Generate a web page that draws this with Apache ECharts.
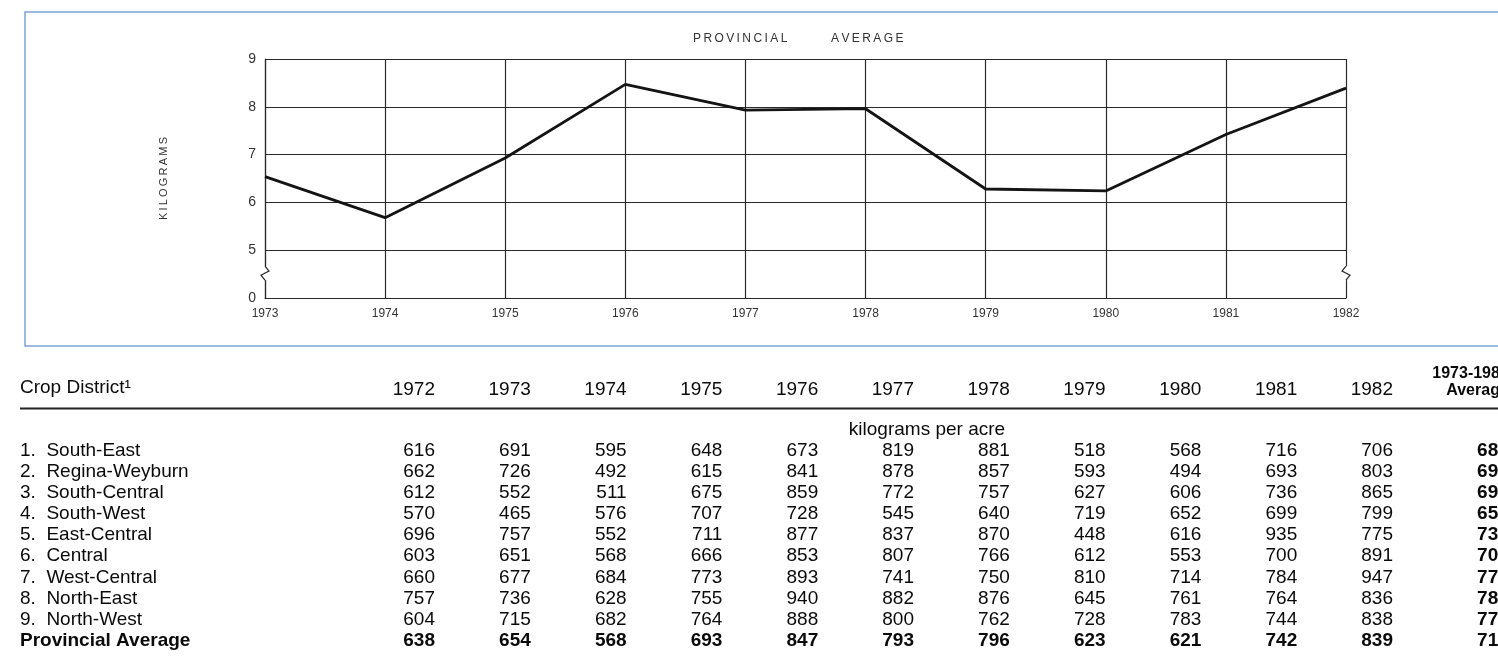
<!DOCTYPE html>
<html>
<head>
<meta charset="utf-8">
<script src="https://cdn.jsdelivr.net/npm/echarts@6/dist/echarts.min.js"></script>
<style>
html,body{margin:0;padding:0;background:#fff;}
#c{width:1498px;height:656px;}
</style>
</head>
<body>
<div id="c"></div>
<script>
// ---- line chart data ----
const years = ['1973','1974','1975','1976','1977','1978','1979','1980','1981','1982'];
const provincialKg = [6.54, 5.68, 6.93, 8.47, 7.93, 7.96, 6.28, 6.24, 7.42, 8.39];

// ---- table data ----
const tableColumns = ['1972','1973','1974','1975','1976','1977','1978','1979','1980','1981','1982','1973-1982\nAverage'];
const districts = ['1.  South-East','2.  Regina-Weyburn','3.  South-Central','4.  South-West','5.  East-Central','6.  Central','7.  West-Central','8.  North-East','9.  North-West','Provincial Average'];
const southEast     = [616,691,595,648,673,819,881,518,568,716,706,682];
const reginaWeyburn = [662,726,492,615,841,878,857,593,494,693,803,699];
const southCentral  = [612,552,511,675,859,772,757,627,606,736,865,696];
const southWest     = [570,465,576,707,728,545,640,719,652,699,799,653];
const eastCentral   = [696,757,552,711,877,837,870,448,616,935,775,738];
const central       = [603,651,568,666,853,807,766,612,553,700,891,707];
const westCentral   = [660,677,684,773,893,741,750,810,714,784,947,777];
const northEast     = [757,736,628,755,940,882,876,645,761,764,836,782];
const northWest     = [604,715,682,764,888,800,762,728,783,744,838,770];
const provincialAvg = [638,654,568,693,847,793,796,623,621,742,839,718];
const tableRows = [southEast, reginaWeyburn, southCentral, southWest, eastCentral, central, westCentral, northEast, northWest, provincialAvg];

const TS = '\u2009';
const spaced = s => s.split('').join(TS);
const FONT = '"Liberation Sans", Arial, sans-serif';
const INK = '#0a0a0a';
const lastCol = tableColumns.length - 1;
const lastRow = districts.length - 1;

const cellData = [];
tableRows.forEach((row, r) => {
  row.forEach((v, c) => {
    const bold = (r === lastRow || c === lastCol);
    cellData.push({
      value: [c, r, v],
      label: {
        fontWeight: bold ? 'bold' : 'normal',
        offset: c === lastCol ? [20, 0] : [0, 0]
      }
    });
  });
});

const chart = echarts.init(document.getElementById('c'));
chart.setOption({
  animation: false,
  backgroundColor: '#ffffff',
  grid: [
    {left: 265, right: 152, top: 59, bottom: 358, outerBoundsMode: 'none', containLabel: false},
    {left: 435, right: 9.2, top: 450.3, bottom: 15, outerBoundsMode: 'none', containLabel: false}
  ],
  xAxis: [
    {
      gridIndex: 0, type: 'category', data: years, boundaryGap: false,
      axisLine: {lineStyle: {color: '#2a2a2a', width: 1.2}},
      axisTick: {show: false},
      splitLine: {show: true, lineStyle: {color: '#2a2a2a', width: 1.2}},
      axisLabel: {color: '#333', fontSize: 12, margin: 10, fontFamily: FONT, interval: 0}
    },
    {
      gridIndex: 1, type: 'category', position: 'top', boundaryGap: false,
      data: tableColumns.map((t, i) => i === lastCol
        ? {value: t, textStyle: {fontWeight: 'bold', fontSize: 16, lineHeight: 17, align: 'right', padding: [0, -20, 0, 0]}}
        : t),
      axisLine: {show: false}, axisTick: {show: false}, splitLine: {show: false},
      axisLabel: {color: INK, fontSize: 19, fontFamily: FONT, align: 'right', margin: 51, interval: 0,
        alignMinLabel: 'right', alignMaxLabel: 'right', hideOverlap: false}
    }
  ],
  yAxis: [
    {
      gridIndex: 0, type: 'value', min: 4, max: 9, interval: 1,
      name: spaced('KILOGRAMS'), nameLocation: 'middle', nameRotate: 90, nameGap: 96,
      nameTextStyle: {color: '#333', fontSize: 11, fontFamily: FONT},
      axisLine: {show: true, lineStyle: {color: '#2a2a2a', width: 1.2}},
      axisTick: {show: false},
      splitLine: {show: true, lineStyle: {color: '#2a2a2a', width: 1.2}},
      axisLabel: {color: '#333', fontSize: 14, margin: 9, fontFamily: FONT,
        formatter: v => (v === 4 ? '0' : String(v))}
    },
    {
      gridIndex: 1, type: 'category', inverse: true, boundaryGap: false,
      data: districts.map((d, i) => i === lastRow ? {value: d, textStyle: {fontWeight: 'bold', align: 'left'}} : d),
      axisLine: {show: false}, axisTick: {show: false}, splitLine: {show: false},
      axisLabel: {color: INK, fontSize: 19, fontFamily: FONT, align: 'left', margin: 415, interval: 0}
    }
  ],
  series: [
    {
      type: 'line', xAxisIndex: 0, yAxisIndex: 0, data: provincialKg,
      symbol: 'none', lineStyle: {color: '#141414', width: 2.8}, z: 5
    },
    {
      type: 'scatter', xAxisIndex: 1, yAxisIndex: 1, data: cellData,
      symbolSize: 0, silent: true,
      itemStyle: {opacity: 1, color: INK},
      label: {show: true, position: 'inside', align: 'right', verticalAlign: 'middle',
        color: INK, fontSize: 19, fontFamily: FONT, opacity: 1,
        textBorderWidth: 0, textBorderColor: 'transparent',
        formatter: p => String(p.value[2])}
    }
  ]
});

// decorations: frame, title, rule, unit note, axis breaks
const g = [];
g.push({type: 'rect', shape: {x: 25, y: 12, width: 1500, height: 334},
  style: {fill: 'none', stroke: '#7ea3d4', lineWidth: 1.5}, z: 0, silent: true});
g.push({type: 'text', left: 693, top: 33, style: {text: spaced('PROVINCIAL'), font: '12px ' + FONT, fill: '#333'}, silent: true});
g.push({type: 'text', left: 831, top: 33, style: {text: spaced('AVERAGE'), font: '12px ' + FONT, fill: '#333'}, silent: true});
g.push({type: 'text', left: 20, top: 378, style: {text: 'Crop District\u00b9', font: '19px ' + FONT, fill: INK}, silent: true});
g.push({type: 'line', shape: {x1: 20, y1: 408.5, x2: 1498, y2: 408.5}, style: {stroke: '#222', lineWidth: 2}, silent: true});
g.push({type: 'text', x: 927, y: 430, style: {text: 'kilograms per acre', font: '19px ' + FONT, fill: INK, align: 'center', verticalAlign: 'middle'}, silent: true});

const pL = chart.convertToPixel({xAxisIndex: 0, yAxisIndex: 0}, [years[0], 4.5]);
const pR = chart.convertToPixel({xAxisIndex: 0, yAxisIndex: 0}, [years[years.length - 1], 4.5]);
[[pL, 1], [pR, -1]].forEach(([p, s]) => {
  g.push({type: 'rect', shape: {x: p[0] - 3, y: p[1] - 8, width: 6, height: 14}, style: {fill: '#fff'}, z: 10, silent: true});
  g.push({type: 'polyline', shape: {points: [[p[0], p[1] - 8], [p[0] + 4 * s, p[1] - 3], [p[0] - 4 * s, p[1] + 1], [p[0], p[1] + 6]]},
    style: {stroke: '#2a2a2a', lineWidth: 1.2, fill: 'none'}, z: 11, silent: true});
});
chart.setOption({graphic: g});
</script>
</body>
</html>
